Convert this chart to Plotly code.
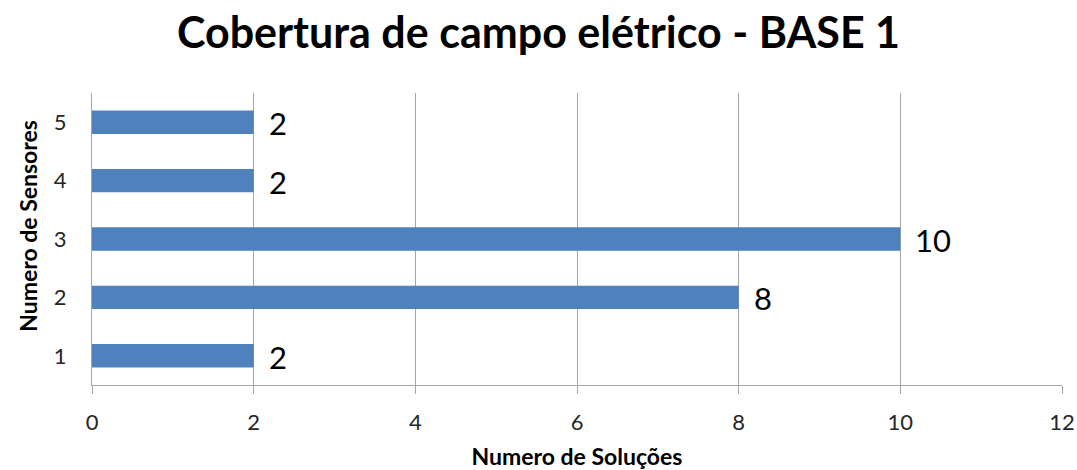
import plotly.graph_objects as go

# Number of sensors (categories) and number of solutions found for each
sensores = [1, 2, 3, 4, 5]
solucoes = [2, 8, 10, 2, 2]
x_ticks = [0, 2, 4, 6, 8, 10, 12]

FONT = "Lato"
BAR_COLOR = "#4f81bd"
GRID_COLOR = "#a6a6a6"

fig = go.Figure()
fig.add_trace(go.Bar(
    x=solucoes,
    y=sensores,
    orientation="h",
    width=0.4,
    marker=dict(color=BAR_COLOR, line=dict(width=0)),
    hoverinfo="x+y",
))

# value labels to the right of each bar
for s, v in zip(sensores, solucoes):
    fig.add_annotation(
        x=v, y=s, text=str(v), showarrow=False,
        xanchor="left", yanchor="middle", xshift=13, yshift=-1,
        font=dict(family=FONT, size=31, color="#000000"),
    )

# vertical axis title, set slightly above the plot's middle
fig.add_annotation(
    xref="paper", yref="paper", x=-0.066, y=0.545,
    text="<b>Numero de Sensores</b>", textangle=-90, showarrow=False,
    xanchor="center", yanchor="middle",
    font=dict(family=FONT, size=23, color="#000000"),
)

fig.update_layout(
    width=1077, height=470,
    margin=dict(l=92, r=15, t=93, b=85, autoexpand=False),
    paper_bgcolor="white", plot_bgcolor="white",
    showlegend=False,
    title=dict(
        text="<b>Cobertura de campo elétrico - BASE 1</b>",
        x=0.5, xanchor="center", y=0.93, yanchor="middle",
        font=dict(family=FONT, size=43, color="#000000"),
    ),
    xaxis=dict(
        range=[0, 12], tickvals=x_ticks, ticktext=[str(t) for t in x_ticks],
        automargin=False,
        showgrid=True, gridcolor=GRID_COLOR, gridwidth=1,
        showline=True, linecolor=GRID_COLOR, linewidth=1,
        ticks="outside", ticklen=8, tickcolor=GRID_COLOR,
        ticklabelstandoff=10,
        zeroline=False,
        tickfont=dict(family=FONT, size=22, color="#262626"),
        title=dict(text="<b>Numero de Soluções</b>",
                   font=dict(family=FONT, size=23, color="#000000"), standoff=14),
    ),
    yaxis=dict(
        range=[0.5, 5.5], tickvals=sensores, ticktext=[str(s) for s in sensores],
        automargin=False,
        showgrid=False, showline=True, linecolor=GRID_COLOR, linewidth=1,
        ticks="", zeroline=False, ticklabelstandoff=20,
        tickfont=dict(family=FONT, size=22, color="#262626"),
    ),
)

fig.write_html("out.html")
